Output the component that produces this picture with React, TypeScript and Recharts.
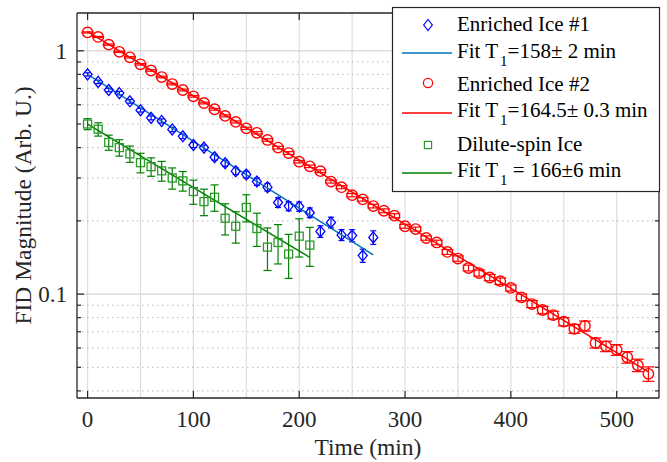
import React from 'react';
import {
  ComposedChart,
  XAxis,
  YAxis,
  Scatter,
  Line,
  ErrorBar,
  ReferenceLine,
  Label,
} from 'recharts';

const FONT = "'Liberation Serif', 'Times New Roman', Times, serif";
const AXIS_COLOR = '#262626';

const X_TICKS = [0, 100, 200, 300, 400, 500];
const X_GRID = [0, 50, 100, 150, 200, 250, 300, 350, 400, 450, 500];
const Y_MAJOR = [0.1, 1];
const Y_MINOR = [0.04, 0.05, 0.06, 0.07, 0.08, 0.09, 0.2, 0.3, 0.4, 0.5, 0.6, 0.7, 0.8, 0.9];
const Y_TICKS = [0.04, 0.05, 0.06, 0.07, 0.08, 0.09, 0.1, 0.2, 0.3, 0.4, 0.5, 0.6, 0.7, 0.8, 0.9, 1];

// Enriched Ice #2 (red circles)
const RED_TIME = [
  0, 10, 20, 30, 40, 50, 60, 70, 80, 90, 100, 110, 120, 130, 140, 150, 160, 170, 180, 190,
  200, 210, 220, 230, 240, 250, 260, 270, 280, 290, 300, 310, 320, 330, 340, 350, 360, 370,
  380, 390, 400, 410, 420, 430, 440, 450, 460, 470, 480, 490, 500, 510, 520, 530,
];
const RED_VALUE = [
  1.19, 1.14, 1.06, 0.99, 0.94, 0.88, 0.83, 0.78, 0.73, 0.69, 0.65, 0.61, 0.575, 0.54, 0.51,
  0.48, 0.46, 0.43, 0.4, 0.38, 0.35, 0.335, 0.32, 0.29, 0.275, 0.255, 0.245, 0.23, 0.22, 0.21,
  0.19, 0.185, 0.17, 0.163, 0.149, 0.14, 0.128, 0.122, 0.117, 0.113, 0.106, 0.097, 0.091,
  0.086, 0.082, 0.077, 0.072, 0.074, 0.063, 0.061, 0.059, 0.055, 0.051, 0.047,
];
const RED_ERR = [
  0.006, 0.006, 0.006, 0.006, 0.006, 0.006, 0.006, 0.006, 0.006, 0.006, 0.005, 0.005, 0.005,
  0.005, 0.005, 0.005, 0.005, 0.005, 0.005, 0.005, 0.004, 0.004, 0.004, 0.004, 0.004, 0.004,
  0.004, 0.004, 0.004, 0.004, 0.0035, 0.0035, 0.0035, 0.0035, 0.0035, 0.0035, 0.0035, 0.0035,
  0.0035, 0.0035, 0.003, 0.003, 0.003, 0.003, 0.003, 0.003, 0.003, 0.0035, 0.003, 0.003,
  0.003, 0.003, 0.003, 0.0032,
];

// Enriched Ice #1 (blue diamonds)
const BLUE_TIME = [
  0, 10, 20, 30, 40, 50, 60, 70, 80, 90, 100, 110, 120, 130, 140, 150, 160, 170, 180, 190,
  200, 210, 220, 230, 240, 250, 260, 270,
];
const BLUE_VALUE = [
  0.8, 0.745, 0.69, 0.67, 0.62, 0.57, 0.53, 0.515, 0.475, 0.445, 0.41, 0.4, 0.365, 0.345,
  0.32, 0.31, 0.29, 0.275, 0.238, 0.23, 0.229, 0.216, 0.181, 0.197, 0.175, 0.174, 0.144, 0.171,
];
const BLUE_ERR = [
  0.012, 0.012, 0.011, 0.011, 0.011, 0.01, 0.01, 0.01, 0.01, 0.01, 0.01, 0.01, 0.01, 0.01,
  0.01, 0.01, 0.01, 0.01, 0.011, 0.01, 0.01, 0.01, 0.01, 0.01, 0.009, 0.01, 0.009, 0.011,
];

// Dilute-spin Ice (green squares)
const GREEN_TIME = [
  0, 10, 20, 30, 40, 50, 60, 70, 80, 90, 100, 110, 120, 130, 140, 150, 160, 170, 180, 190,
  200, 210,
];
const GREEN_VALUE = [
  0.5, 0.476, 0.42, 0.4, 0.377, 0.347, 0.334, 0.321, 0.3, 0.292, 0.264, 0.24, 0.25, 0.205,
  0.19, 0.227, 0.186, 0.156, 0.163, 0.146, 0.173, 0.159,
];
const GREEN_ERR = [
  0.026, 0.03, 0.03, 0.031, 0.029, 0.032, 0.029, 0.03, 0.03, 0.027, 0.03, 0.03, 0.031, 0.03,
  0.028, 0.029, 0.029, 0.031, 0.03, 0.03, 0.031, 0.029,
];

// fit lines (end points; straight on the log axis)
const RED_FIT_TIME = [0, 530];
const RED_FIT_VALUE = [1.2, 0.0479];
const BLUE_FIT_TIME = [0, 270];
const BLUE_FIT_VALUE = [0.8, 0.1449];
const GREEN_FIT_TIME = [0, 210];
const GREEN_FIT_VALUE = [0.5, 0.1416];

const toPoints = (t: number[], v: number[], e?: number[]) =>
  t.map((x, i) => ({ t: x, v: v[i], e: e ? e[i] : 0 }));

const redData = toPoints(RED_TIME, RED_VALUE, RED_ERR);
const blueData = toPoints(BLUE_TIME, BLUE_VALUE, BLUE_ERR);
const greenData = toPoints(GREEN_TIME, GREEN_VALUE, GREEN_ERR);
const redFit = toPoints(RED_FIT_TIME, RED_FIT_VALUE);
const blueFit = toPoints(BLUE_FIT_TIME, BLUE_FIT_VALUE);
const greenFit = toPoints(GREEN_FIT_TIME, GREEN_FIT_VALUE);

const RED = '#ff0000';
const BLUE = '#0000ff';
const BLUE_FIT = '#0072bd';
const GREEN = '#008000';
const GREEN_MARK = '#2a9a2a';

const textStyle = (size: number, color = AXIS_COLOR): React.CSSProperties => ({
  fontFamily: FONT,
  fontSize: size,
  fill: color,
});

const isMajor = (v: number) => Y_MAJOR.some((m) => Math.abs(m - v) < 1e-9);

function BottomTick({ x, y, payload }: any) {
  return (
    <g>
      <line x1={x} y1={y} x2={x} y2={y - 7} stroke={AXIS_COLOR} strokeWidth={1.2} />
      <text x={x} y={y + 29} textAnchor="middle" style={textStyle(23)}>
        {payload.value}
      </text>
    </g>
  );
}

function TopTick({ x, y }: any) {
  return <line x1={x} y1={y} x2={x} y2={y + 7} stroke={AXIS_COLOR} strokeWidth={1.2} />;
}

function LeftTick({ x, y, payload }: any) {
  const major = isMajor(payload.value);
  return (
    <g>
      <line x1={x} y1={y} x2={x + (major ? 7 : 4)} y2={y} stroke={AXIS_COLOR} strokeWidth={1.2} />
      {major && (
        <text x={x - 10} y={y} dy="0.35em" textAnchor="end" style={textStyle(23)}>
          {String(payload.value)}
        </text>
      )}
    </g>
  );
}

function RightTick({ x, y, payload }: any) {
  const major = isMajor(payload.value);
  return <line x1={x} y1={y} x2={x - (major ? 7 : 4)} y2={y} stroke={AXIS_COLOR} strokeWidth={1.2} />;
}

function XTitle(props: any) {
  const vb = props.viewBox || { x: 77, width: 582 };
  const cx = vb.x + vb.width / 2;
  return (
    <text x={cx} y={455} textAnchor="middle" style={textStyle(23.5)}>
      Time (min)
    </text>
  );
}

function YTitle(props: any) {
  const vb = props.viewBox || { y: 13, height: 385 };
  const cy = vb.y + vb.height / 2;
  return (
    <text
      x={23}
      y={cy}
      transform={`rotate(-90 23 ${cy})`}
      textAnchor="middle"
      dominantBaseline="central"
      style={textStyle(23.5)}
    >
      FID Magnitude (Arb. U.)
    </text>
  );
}

const circleShape = (p: any) => (
  <circle cx={p.cx} cy={p.cy} r={5.2} fill="none" stroke={RED} strokeWidth={1.4} />
);
const diamondShape = (p: any) => (
  <path
    d={`M${p.cx},${p.cy - 5.5} L${p.cx + 4.5},${p.cy} L${p.cx},${p.cy + 5.5} L${p.cx - 4.5},${p.cy} Z`}
    fill="none"
    stroke={BLUE}
    strokeWidth={1.3}
  />
);
const squareShape = (p: any) => (
  <rect x={p.cx - 4} y={p.cy - 4} width={8} height={8} fill="none" stroke={GREEN_MARK} strokeWidth={1.3} />
);

const LEGEND_ROWS = [
  { kind: 'diamond', color: BLUE, text: 'Enriched Ice #1' },
  { kind: 'line', color: BLUE_FIT, text: 'Fit T', sub: '1', rest: '=158\u00b1 2 min' },
  { kind: 'circle', color: RED, text: 'Enriched Ice #2' },
  { kind: 'line', color: RED, text: 'Fit T', sub: '1', rest: '=164.5\u00b1 0.3 min' },
  { kind: 'square', color: GREEN_MARK, text: 'Dilute-spin Ice' },
  { kind: 'line', color: GREEN, text: 'Fit T', sub: '1', rest: ' = 166\u00b16 min' },
];
const ROW_CENTER = [25, 53, 83, 113, 145, 173];
const ROW_BASELINE = [31, 57.5, 90.5, 117, 150.5, 177];

function LegendBox() {
  return (
    <svg width={667} height={462} style={{ position: 'absolute', left: 0, top: 0, pointerEvents: 'none' }}>
      <rect x={392.5} y={7.5} width={267} height={184} fill="#fff" stroke={AXIS_COLOR} strokeWidth={1.2} />
      {LEGEND_ROWS.map((r, i) => {
        const cy = ROW_CENTER[i];
        let icon: React.ReactNode = null;
        if (r.kind === 'line') {
          icon = <line x1={402} y1={cy} x2={452} y2={cy} stroke={r.color} strokeWidth={1.5} />;
        } else if (r.kind === 'diamond') {
          icon = (
            <path d={`M428,${cy - 5.5} L432.3,${cy} L428,${cy + 5.5} L423.7,${cy} Z`} fill="none" stroke={r.color} strokeWidth={1.2} />
          );
        } else if (r.kind === 'circle') {
          icon = <circle cx={428} cy={cy} r={4.6} fill="none" stroke={r.color} strokeWidth={1.2} />;
        } else {
          icon = <rect x={424.4} y={cy - 3.6} width={7.2} height={7.2} fill="none" stroke={r.color} strokeWidth={1.2} />;
        }
        return (
          <g key={i}>
            {icon}
            <text x={457} y={ROW_BASELINE[i]} style={textStyle(21, '#000')}>
              {r.text}
              {r.sub && (
                <>
                  <tspan style={{ fontSize: 15 }} dx={2} dy={8}>
                    {r.sub}
                  </tspan>
                  <tspan style={{ fontSize: 21 }} dy={-8}>
                    {r.rest}
                  </tspan>
                </>
              )}
            </text>
          </g>
        );
      })}
    </svg>
  );
}

export default function App() {
  return (
    <div style={{ position: 'absolute', left: 0, top: 0, width: 667, height: 462, background: '#fff', fontFamily: FONT }}>
      <ComposedChart width={667} height={462} margin={{ top: 0, right: 0, bottom: 0, left: 0 }}>
        <XAxis
          xAxisId="b"
          type="number"
          dataKey="t"
          domain={[-10, 540]}
          ticks={X_TICKS}
          interval={0}
          height={64}
          tickSize={0}
          tickMargin={0}
          tickLine={false}
          tick={<BottomTick />}
          axisLine={{ stroke: AXIS_COLOR, strokeWidth: 1.3 }}
          allowDataOverflow
        >
          <Label content={<XTitle />} />
        </XAxis>
        <XAxis
          xAxisId="t"
          orientation="top"
          type="number"
          dataKey="t"
          domain={[-10, 540]}
          ticks={X_TICKS}
          interval={0}
          height={13}
          tickSize={0}
          tickMargin={0}
          tickLine={false}
          tick={<TopTick />}
          axisLine={{ stroke: AXIS_COLOR, strokeWidth: 1.3 }}
          allowDataOverflow
        />
        <YAxis
          yAxisId="l"
          type="number"
          dataKey="v"
          scale="log"
          domain={[0.0374, 1.43]}
          ticks={Y_TICKS}
          interval={0}
          width={77}
          tickSize={0}
          tickMargin={0}
          tickLine={false}
          tick={<LeftTick />}
          axisLine={{ stroke: AXIS_COLOR, strokeWidth: 1.3 }}
          allowDataOverflow
        >
          <Label content={<YTitle />} />
        </YAxis>
        <YAxis
          yAxisId="r"
          orientation="right"
          type="number"
          dataKey="v"
          scale="log"
          domain={[0.0374, 1.43]}
          ticks={Y_TICKS}
          interval={0}
          width={8}
          tickSize={0}
          tickMargin={0}
          tickLine={false}
          tick={<RightTick />}
          axisLine={{ stroke: AXIS_COLOR, strokeWidth: 1.3 }}
          allowDataOverflow
        />

        {X_GRID.map((g) => (
          <ReferenceLine key={`gx${g}`} xAxisId="b" yAxisId="l" x={g} stroke="#dedede" strokeWidth={1.2} />
        ))}
        {Y_MAJOR.map((g) => (
          <ReferenceLine key={`gy${g}`} xAxisId="b" yAxisId="l" y={g} stroke="#d6d6d6" strokeWidth={1.2} />
        ))}
        {Y_MINOR.map((g) => (
          <ReferenceLine
            key={`gm${g}`}
            xAxisId="b"
            yAxisId="l"
            y={g}
            stroke="#b8b8b8"
            strokeWidth={1}
            strokeDasharray="1.5 3.5"
          />
        ))}

        <Scatter xAxisId="b" yAxisId="l" data={greenData} dataKey="v" shape={squareShape} isAnimationActive={false}>
          <ErrorBar dataKey="e" direction="y" width={4} stroke={GREEN} strokeWidth={1.2} isAnimationActive={false} />
        </Scatter>
        <Line
          xAxisId="b"
          yAxisId="l"
          data={greenFit}
          dataKey="v"
          type="linear"
          stroke={GREEN}
          strokeWidth={1.5}
          dot={false}
          activeDot={false}
          isAnimationActive={false}
        />
        <Scatter xAxisId="b" yAxisId="l" data={blueData} dataKey="v" shape={diamondShape} isAnimationActive={false}>
          <ErrorBar dataKey="e" direction="y" width={3} stroke={BLUE} strokeWidth={1.2} isAnimationActive={false} />
        </Scatter>
        <Line
          xAxisId="b"
          yAxisId="l"
          data={blueFit}
          dataKey="v"
          type="linear"
          stroke={BLUE_FIT}
          strokeWidth={1.5}
          dot={false}
          activeDot={false}
          isAnimationActive={false}
        />
        <Scatter xAxisId="b" yAxisId="l" data={redData} dataKey="v" shape={circleShape} isAnimationActive={false}>
          <ErrorBar dataKey="e" direction="y" width={6} stroke={RED} strokeWidth={1.2} isAnimationActive={false} />
        </Scatter>
        <Line
          xAxisId="b"
          yAxisId="l"
          data={redFit}
          dataKey="v"
          type="linear"
          stroke={RED}
          strokeWidth={1.5}
          dot={false}
          activeDot={false}
          isAnimationActive={false}
        />
      </ComposedChart>
      <LegendBox />
    </div>
  );
}
